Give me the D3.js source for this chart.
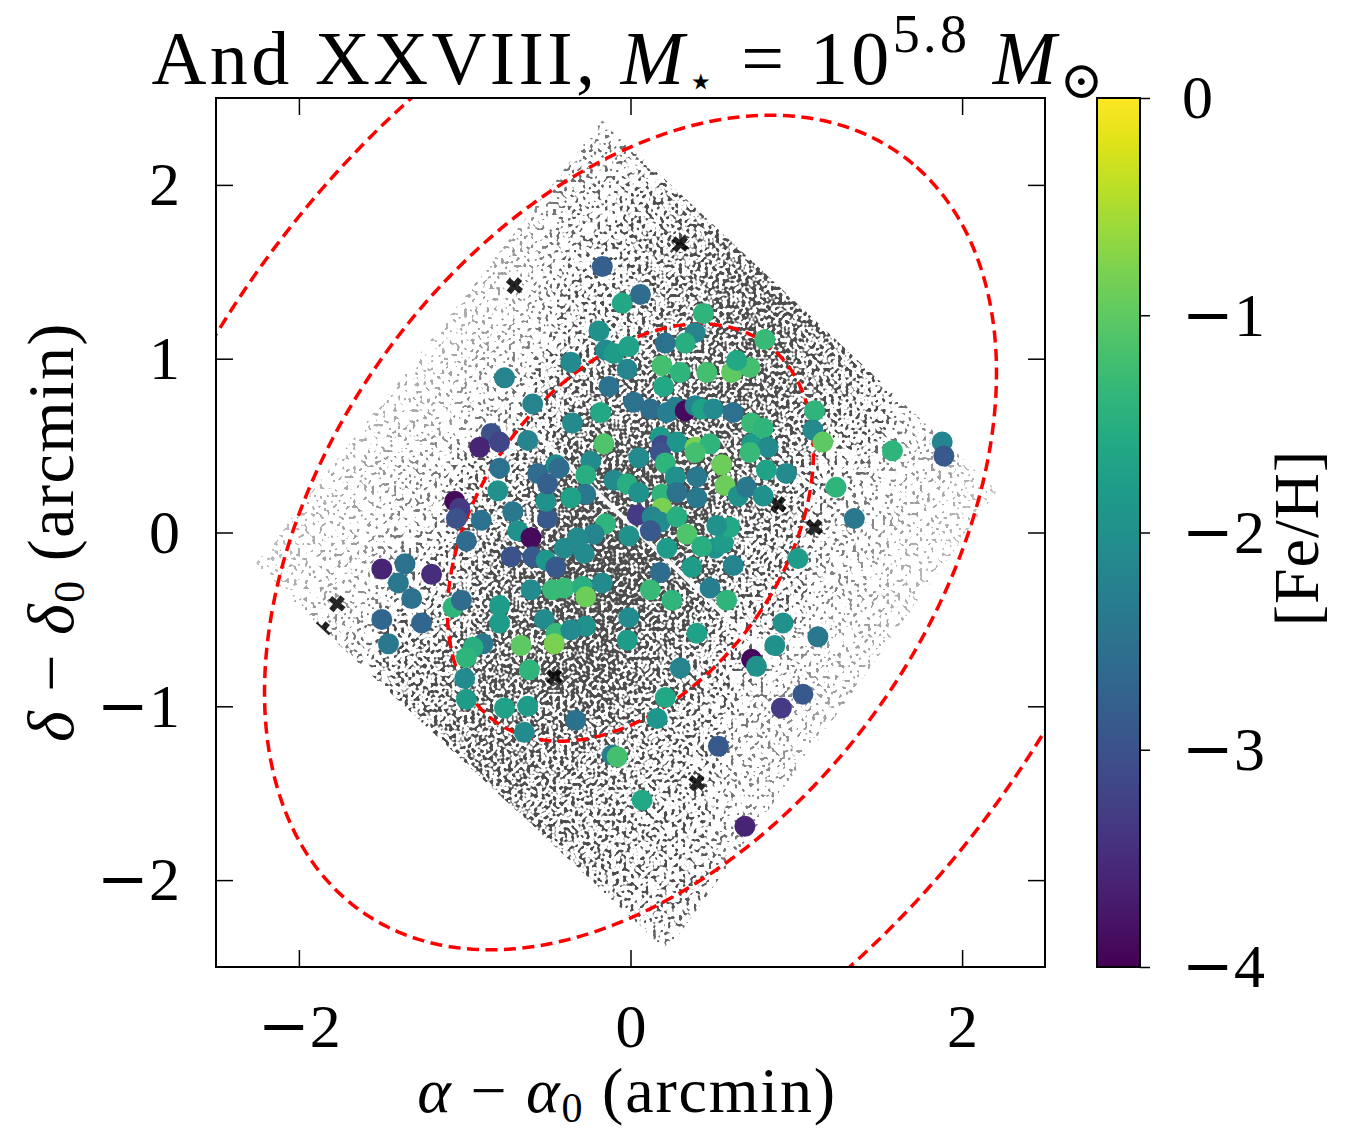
<!DOCTYPE html>
<html>
<head>
<meta charset="utf-8">
<script src="https://cdn.jsdelivr.net/npm/d3@7"></script>
<style>
  body { margin: 0; background: #fff; }
  text { font-family: "Liberation Serif", "DejaVu Serif", serif; fill: #000; }
</style>
</head>
<body>
<div id="chart"></div>
<script>
// ---- data ----
const xTicks = [-2, 0, 2];
const yTicks = [-2, -1, 0, 1, 2];
const cbTicks = [0, -1, -2, -3, -4];

// member stars: offsets in arcmin and [Fe/H]
const memX = [
  -0.76, -0.59, -0.62, -0.84, -0.91, -0.79, -0.17, -0.05, 0.06, 0.44,
  -0.19, 0.39, 0.33, 0.21, -0.15, -0.10, -0.01, -0.36, -0.02, 0.19,
  0.30, 0.46, 0.61, 0.72, 0.64, 0.81, -0.13, 0.20, -0.18, -0.35,
  0.02, 0.12, 0.22, 0.27, 0.33, 0.39, 0.43, 0.50, 0.62, 0.73,
  0.18, 0.19, 0.28, -0.16, 0.39, 0.48, 0.73, 1.11, 1.10, 1.16,
  1.58, 1.88, 1.89, 0.80, 0.83, -0.79, -0.80, -1.06, -1.03, -1.05,
  -0.90, -0.99, -0.71, -0.68, -0.60, -0.72, -0.59, -0.50, -0.51, -0.56,
  -0.50, -0.45, -0.51, -0.45, -1.50, -1.36, -1.20, -1.40, -1.32, -1.50,
  -1.26, -1.46, -1.07, -1.02, -0.79, -0.79, -0.60, -0.52, -0.47, -0.45,
  -0.46, -0.66, -0.89, -0.95, -0.24, -0.43, -0.27, -0.10, -0.02, 0.05,
  -0.27, -0.36, 0.05, 0.18, 0.21, 0.27, 0.39, 0.40, 0.55, 0.57,
  0.65, 0.70, 0.72, 0.19, 0.28, 0.40, 0.19, 0.04, 0.13, 0.18,
  0.28, 0.34, 0.12, -0.15, -0.22, -0.32, -0.01, -0.40, -0.28, 0.22,
  0.18, 0.37, 0.51, 0.43, 0.56, 0.60, 0.52, 0.62, -0.40, -0.29,
  -0.27, -0.17, 0.12, 0.25, 0.48, 0.58, -0.01, -0.27, -0.36, -0.02,
  0.40, 0.82, 0.94, 0.80, 1.24, 1.35, 1.01, 0.92, 1.13, 0.87,
  -0.99, -0.61, -1.00, -0.99, -0.76, -0.62, -0.64, 0.30, 0.73, 0.76,
  0.21, 0.16, -0.33, -0.11, -0.08, 0.53, 0.07, 0.69, 1.04, 0.91
];
const memY = [
  0.89, 0.74, 0.53, 0.57, 0.49, 0.52, 1.53, 1.32, 1.37, 1.26,
  1.16, 1.15, 1.09, 1.09, 1.05, 1.03, 1.07, 0.98, 0.94, 0.96,
  0.92, 0.92, 0.92, 0.95, 0.99, 1.11, 0.84, 0.84, 0.69, 0.63,
  0.75, 0.71, 0.69, 0.72, 0.70, 0.73, 0.71, 0.71, 0.69, 0.63,
  0.55, 0.50, 0.52, 0.51, 0.49, 0.51, 0.51, 0.70, 0.59, 0.52,
  0.47, 0.52, 0.44, 0.60, 0.49, 0.37, 0.24, 0.18, 0.14, 0.08,
  0.07, -0.05, 0.12, 0.01, -0.03, -0.14, -0.14, 0.08, 0.18, 0.34,
  0.28, 0.39, -0.16, -0.20, -0.21, -0.18, -0.24, -0.29, -0.38, -0.50,
  -0.52, -0.64, -0.43, -0.39, -0.42, -0.52, -0.33, -0.50, -0.33, -0.58,
  -0.64, -0.65, -0.64, -0.66, 0.41, 0.37, 0.33, 0.30, 0.28, 0.23,
  0.22, 0.20, 0.43, 0.46, 0.40, 0.32, 0.46, 0.32, 0.39, 0.27,
  0.21, 0.26, 0.46, 0.22, 0.23, 0.20, 0.14, 0.10, 0.09, 0.06,
  0.09, -0.01, 0.01, 0.05, -0.01, -0.03, -0.02, -0.09, -0.12, -0.09,
  -0.23, -0.20, -0.09, -0.08, -0.06, 0.03, 0.04, -0.19, -0.32, -0.31,
  -0.37, -0.29, -0.33, -0.39, -0.32, -0.39, -0.49, -0.54, -0.56, -0.62,
  -0.58, 0.36, 0.34, 0.21, 0.26, 0.08, -0.15, -0.52, -0.60, -0.65,
  -0.72, -0.79, -0.84, -0.96, -1.01, -1.00, -1.15, -0.78, -0.73, -0.77,
  -0.95, -1.07, -1.08, -1.28, -1.29, -1.23, -1.54, -1.69, -0.93, -1.01
];
const memFeH = [
  -2.2, -2.2, -2.2, -3.0, -3.6, -3.2, -2.8, -1.6, -2.6, -1.4,
  -2.0, -2.2, -1.5, -2.5, -2.1, -1.8, -1.7, -2.1, -2.2, -1.2,
  -1.4, -1.2, -1.0, -1.2, -1.6, -1.3, -2.5, -1.6, -1.6, -2.1,
  -2.5, -2.6, -2.3, -2.3, -3.9, -2.2, -1.7, -2.1, -2.5, -1.3,
  -1.8, -3.1, -1.9, -1.1, -0.8, -1.4, -1.8, -1.4, -2.1, -1.0,
  -1.4, -2.2, -2.9, -1.4, -2.1, -2.5, -2.0, -3.9, -3.3, -3.0,
  -2.5, -2.6, -2.4, -2.0, -3.9, -3.0, -2.9, -2.9, -2.0, -2.6,
  -2.8, -2.1, -1.9, -2.9, -3.6, -2.5, -3.5, -2.4, -2.5, -2.7,
  -2.7, -2.4, -1.4, -2.6, -1.8, -1.8, -2.1, -2.1, -1.3, -1.3,
  -0.8, -1.0, -2.4, -1.5, -2.1, -2.6, -1.5, -2.1, -1.5, -2.0,
  -2.4, -1.7, -2.1, -3.0, -1.4, -2.0, -1.2, -2.4, -0.9, -0.9,
  -2.0, -2.4, -1.3, -1.4, -2.5, -2.4, -0.8, -3.3, -2.2, -2.1,
  -1.5, -1.1, -2.9, -1.4, -2.2, -2.1, -2.0, -2.1, -2.1, -1.8,
  -2.6, -1.8, -2.0, -1.5, -1.8, -1.6, -2.0, -2.2, -1.3, -1.5,
  -0.9, -2.1, -1.3, -1.4, -2.3, -1.4, -2.1, -2.0, -2.1, -1.8,
  -1.7, -1.7, -2.1, -2.0, -1.4, -2.4, -1.8, -2.0, -2.4, -2.0,
  -1.4, -1.4, -2.1, -1.8, -1.7, -1.8, -2.1, -2.2, -3.9, -2.0,
  -1.6, -1.9, -2.5, -2.3, -1.2, -2.9, -1.6, -3.6, -2.9, -3.3
];

// photometric field: coverage of faint sources on a 0.5' grid (rows from top)
const gridX = [-2.25, -1.75, -1.25, -0.75, -0.25, 0.25, 0.75, 1.25, 1.75, 2.25];
const gridY = [2.25, 1.75, 1.25, 0.75, 0.25, -0.25, -0.75, -1.25, -1.75, -2.25];
const density = [
  [0.12, 0.12, 0.12, 0.22, 0.30, 0.32, 0.35, 0.30, 0.22, 0.18],
  [0.12, 0.12, 0.17, 0.22, 0.35, 0.50, 0.60, 0.50, 0.30, 0.22],
  [0.12, 0.14, 0.17, 0.22, 0.40, 0.55, 0.70, 0.60, 0.40, 0.25],
  [0.12, 0.17, 0.20, 0.30, 0.60, 0.70, 0.72, 0.50, 0.28, 0.20],
  [0.14, 0.20, 0.28, 0.50, 0.85, 0.85, 0.62, 0.32, 0.22, 0.15],
  [0.17, 0.22, 0.35, 0.65, 0.92, 0.80, 0.50, 0.27, 0.18, 0.13],
  [0.22, 0.28, 0.50, 0.72, 0.80, 0.60, 0.32, 0.22, 0.17, 0.13],
  [0.25, 0.40, 0.55, 0.62, 0.58, 0.45, 0.27, 0.20, 0.17, 0.13],
  [0.25, 0.40, 0.50, 0.55, 0.50, 0.40, 0.27, 0.20, 0.17, 0.13],
  [0.25, 0.35, 0.40, 0.42, 0.38, 0.35, 0.27, 0.20, 0.17, 0.13]
];
const footprint = [[-0.17, 2.37], [2.21, 0.24], [0.22, -2.41], [-2.27, -0.19]];
const chipGap = [[-0.55, 0.55], [0.92, -0.80]];
const brightX = [-0.70, 0.30, -1.77, -1.86, 0.40, 0.89, 1.11, -0.46];
const brightY = [1.42, 1.66, -0.41, -0.56, -1.44, 0.16, 0.03, -0.83];

// half-light ellipse (arcmin) and the multiples drawn
const rMajor = 1.36, rMinor = 0.90, tiltDeg = 51.2;
const ellipseScales = [1, 2, 3];

// ---- layout ----
const margin = { top: 98, left: 216 };
const width = 829, height = 869;
const serif = "'Liberation Serif', 'DejaVu Serif', serif";

const svg = d3.select("#chart").append("svg")
  .attr("width", 1358).attr("height", 1138);

const x = d3.scaleLinear().domain([-2.5, 2.5]).range([0, width]);
const y = d3.scaleLinear().domain([-2.5, 2.5]).range([height, 0]);
const color = d3.scaleSequential(d3.interpolateViridis).domain([-4, 0]);

const defs = svg.append("defs");
defs.append("clipPath").attr("id", "plot-clip")
  .append("rect").attr("width", width).attr("height", height);

const polyLine = d3.line().x(d => x(d[0])).y(d => y(d[1])).curve(d3.curveLinearClosed);
defs.append("clipPath").attr("id", "field-clip")
  .append("path").attr("d", polyLine(footprint));

// smooth the coverage grid, then break it into grains so it reads as a crowd of faint dots
const stip = defs.append("filter").attr("id", "stipple")
  .attr("filterUnits", "userSpaceOnUse")
  .attr("x", 0).attr("y", 0).attr("width", width).attr("height", height)
  .attr("color-interpolation-filters", "sRGB");
stip.append("feGaussianBlur").attr("in", "SourceGraphic").attr("stdDeviation", 22).attr("result", "blur");
stip.append("feColorMatrix").attr("in", "blur").attr("type", "matrix")
  .attr("values", "0 0 0 1 0  0 0 0 1 0  0 0 0 1 0  0 0 0 0 1").attr("result", "dens");
stip.append("feTurbulence").attr("type", "fractalNoise")
  .attr("baseFrequency", 0.27).attr("numOctaves", 1).attr("seed", 4).attr("result", "noise");
stip.append("feColorMatrix").attr("in", "noise").attr("type", "matrix")
  .attr("values", "3.5 0 0 0 -1.25  3.5 0 0 0 -1.25  3.5 0 0 0 -1.25  0 0 0 0 1").attr("result", "grain");
stip.append("feComposite").attr("in", "dens").attr("in2", "grain").attr("operator", "arithmetic")
  .attr("k1", 0).attr("k2", 3).attr("k3", 3).attr("k4", -3.12).attr("result", "mix");
stip.append("feColorMatrix").attr("in", "mix").attr("type", "matrix")
  .attr("values", "0 0 0 0 0  0 0 0 0 0  0 0 0 0 0  0.7 0 0 0 0").attr("result", "ink");
stip.append("feGaussianBlur").attr("in", "ink").attr("stdDeviation", 0.5);

const plot = svg.append("g").attr("transform", `translate(${margin.left}, ${margin.top})`);
const inner = plot.append("g").attr("clip-path", "url(#plot-clip)");

// faint sources
const field = inner.append("g").attr("clip-path", "url(#field-clip)");
const cells = field.append("g").attr("filter", "url(#stipple)");
density.forEach((row, i) => {
  row.forEach((v, j) => {
    cells.append("rect")
      .attr("x", x(gridX[j] - 0.25))
      .attr("y", y(gridY[i] + 0.25))
      .attr("width", x(gridX[j] + 0.25) - x(gridX[j] - 0.25))
      .attr("height", y(gridY[i] - 0.25) - y(gridY[i] + 0.25))
      .attr("fill", "#000")
      .attr("fill-opacity", v);
  });
});
field.append("line")
  .attr("x1", x(chipGap[0][0])).attr("y1", y(chipGap[0][1]))
  .attr("x2", x(chipGap[1][0])).attr("y2", y(chipGap[1][1]))
  .attr("stroke", "#fff").attr("stroke-width", 4.5).attr("stroke-opacity", 0.95)
  .attr("stroke-linecap", "round");

field.selectAll("path.bright")
  .data(brightX)
  .join("path")
  .attr("class", "bright")
  .attr("transform", (d, i) => `translate(${x(d)}, ${y(brightY[i])}) rotate(40)`)
  .attr("d", d3.symbol().type(d3.symbolCross).size(170))
  .attr("fill", "#000")
  .attr("fill-opacity", 0.85);

// ellipses
const th = tiltDeg * Math.PI / 180;
const ellipseLine = d3.line().x(d => x(d[0])).y(d => y(d[1])).curve(d3.curveLinearClosed);
ellipseScales.forEach(k => {
  const pts = d3.range(0, 360, 1).map(deg => {
    const t = deg * Math.PI / 180;
    const u = k * rMajor * Math.cos(t), v = k * rMinor * Math.sin(t);
    return [u * Math.cos(th) - v * Math.sin(th), u * Math.sin(th) + v * Math.cos(th)];
  });
  inner.append("path")
    .attr("d", ellipseLine(pts))
    .attr("fill", "none")
    .attr("stroke", "#ff0000")
    .attr("stroke-width", 3.5)
    .attr("stroke-dasharray", "12,6.5");
});

// members
inner.selectAll("circle.member")
  .data(memX)
  .join("circle")
  .attr("class", "member")
  .attr("cx", d => x(d))
  .attr("cy", (d, i) => y(memY[i]))
  .attr("r", 10.5)
  .attr("fill", (d, i) => color(memFeH[i]));

// frame + ticks
const tickLen = 17, fs = 62;

function styleAxis(g) {
  g.select(".domain").remove();
  g.selectAll(".tick line").attr("stroke", "#000").attr("stroke-width", 1.5);
  g.selectAll(".tick text")
    .attr("font-size", fs)
    .attr("font-family", serif)
    .each(function (d) {
      const t = d3.select(this);
      if (t.text() === "") return;
      t.text(null);
      if (d < 0) t.append("tspan").attr("font-family", "'DejaVu Serif', serif").text("\u2212");
      t.append("tspan").text(Math.abs(d));
    });
}

plot.append("g").attr("transform", `translate(0, ${height})`)
  .call(d3.axisBottom(x).tickValues(xTicks).tickSize(-tickLen).tickPadding(36))
  .call(styleAxis);
plot.append("g")
  .call(d3.axisTop(x).tickValues(xTicks).tickSize(-tickLen).tickFormat(""))
  .call(styleAxis);
plot.append("g")
  .call(d3.axisLeft(y).tickValues(yTicks).tickSize(-tickLen).tickPadding(36))
  .call(styleAxis);
plot.append("g").attr("transform", `translate(${width}, 0)`)
  .call(d3.axisRight(y).tickValues(yTicks).tickSize(-tickLen).tickFormat(""))
  .call(styleAxis);

plot.append("rect")
  .attr("width", width).attr("height", height)
  .attr("fill", "none").attr("stroke", "#000").attr("stroke-width", 2);

// colorbar
const cbX = 1097, cbW = 43;
const cy = d3.scaleLinear().domain([-4, 0]).range([967, 98]);
const grad = defs.append("linearGradient").attr("id", "viridis")
  .attr("x1", "0%").attr("x2", "0%").attr("y1", "100%").attr("y2", "0%");
d3.range(0, 1.0001, 0.05).forEach(t => {
  grad.append("stop").attr("offset", `${t * 100}%`).attr("stop-color", d3.interpolateViridis(t));
});
svg.append("rect")
  .attr("x", cbX).attr("y", cy(0)).attr("width", cbW).attr("height", cy(-4) - cy(0))
  .attr("fill", "url(#viridis)").attr("stroke", "#000").attr("stroke-width", 2);
svg.append("g").attr("transform", `translate(${cbX + cbW}, 0)`)
  .call(d3.axisRight(cy).tickValues(cbTicks).tickSize(10).tickPadding(32))
  .call(styleAxis);

// labels
const title = svg.append("text")
  .attr("x", 629).attr("y", 84).attr("text-anchor", "middle")
  .attr("font-size", 76).attr("letter-spacing", 3.4);
title.append("tspan").text("And XXVIII, ");
title.append("tspan").attr("font-style", "italic").text("M");
title.append("tspan").attr("font-size", 44).attr("dy", 12).text("\u22c6");
title.append("tspan").attr("dy", -12).text(" = 10");
title.append("tspan").attr("font-size", 54).attr("dy", -32).text("5.8");
title.append("tspan").attr("dy", 32).text(" ");
title.append("tspan").attr("font-style", "italic").text("M");
title.append("tspan").attr("font-size", 52).attr("dy", 14).text("\u2299");

const xl = svg.append("text")
  .attr("x", 627).attr("y", 1112).attr("text-anchor", "middle")
  .attr("font-size", 64).attr("letter-spacing", 1.8);
xl.append("tspan").attr("font-style", "italic").text("\u03b1");
xl.append("tspan").text(" \u2212 ");
xl.append("tspan").attr("font-style", "italic").text("\u03b1");
xl.append("tspan").attr("font-size", 42).attr("dy", 10).text("0");
xl.append("tspan").attr("dy", -10).text(" (arcmin)");

const yl = svg.append("text")
  .attr("transform", "translate(73, 532) rotate(-90)")
  .attr("text-anchor", "middle").attr("font-size", 66).attr("letter-spacing", 1.5);
yl.append("tspan").attr("font-style", "italic").text("\u03b4");
yl.append("tspan").text(" \u2212 ");
yl.append("tspan").attr("font-style", "italic").text("\u03b4");
yl.append("tspan").attr("font-size", 44).attr("dy", 11).text("0");
yl.append("tspan").attr("dy", -11).text(" (arcmin)");

svg.append("text")
  .attr("transform", "translate(1318, 538) rotate(-90)")
  .attr("text-anchor", "middle").attr("font-size", 64).attr("letter-spacing", 1)
  .text("[Fe/H]");
</script>
</body>
</html>
